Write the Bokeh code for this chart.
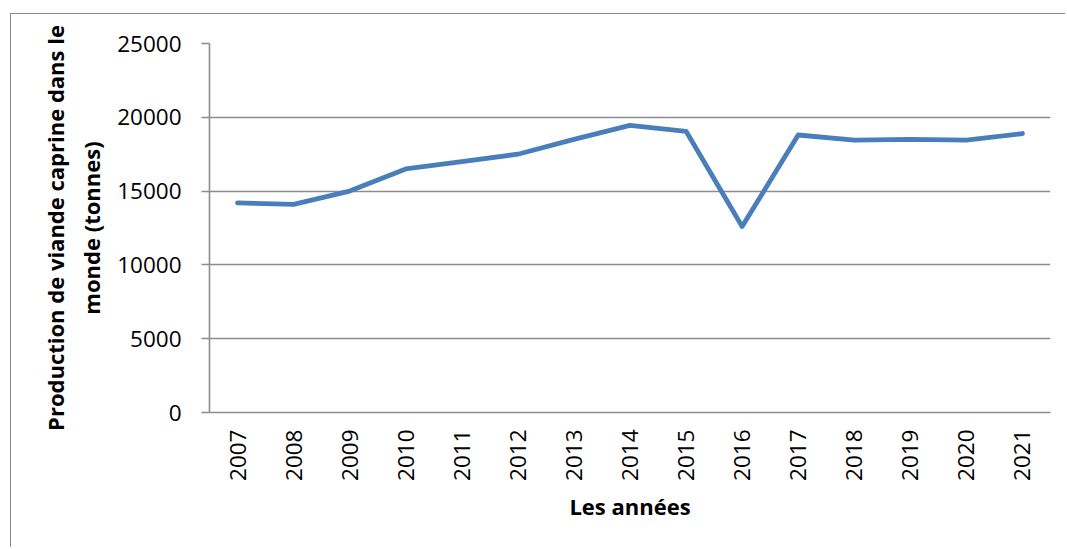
import math
from bokeh.plotting import figure
from bokeh.models import FactorRange, Range1d, FixedTicker
from bokeh.embed import file_html
from bokeh.resources import INLINE

years = ["2007", "2008", "2009", "2010", "2011", "2012", "2013", "2014",
         "2015", "2016", "2017", "2018", "2019", "2020", "2021"]
production = [14200, 14100, 15000, 16500, 17000, 17500, 18500, 19450,
              19050, 12600, 18800, 18450, 18500, 18450, 18900]
y_ticks = [0, 5000, 10000, 15000, 20000, 25000]

GREY = "#8c8c8c"
FONT = "Open Sans"

p = figure(width=1055, height=534, x_range=FactorRange(*years),
           y_range=Range1d(0, 25000), output_backend="svg",
           toolbar_location=None, min_border_left=198, min_border_top=29,
           min_border_right=16, min_border_bottom=136)
p.styles = {"border-left": "1px solid #8c8c8c", "border-top": "1px solid #8c8c8c",
            "margin-left": "10px", "margin-top": "13px"}
p.outline_line_color = None
p.background_fill_color = "white"
p.border_fill_color = "white"

p.line(years, production, line_color="#4a7ebb", line_width=4.8,
       line_cap="round", line_join="round")

p.xgrid.grid_line_color = None
p.ygrid.grid_line_color = GREY
p.ygrid.grid_line_width = 1.6
p.yaxis.ticker = FixedTicker(ticks=y_ticks)

for ax in (p.xaxis[0], p.yaxis[0]):
    ax.axis_line_color = GREY
    ax.axis_line_width = 1.6
    ax.major_tick_line_color = GREY
    ax.major_tick_line_width = 1.6
    ax.minor_tick_line_color = None
    ax.major_label_text_font = FONT
    ax.major_label_text_font_size = "22.5px"
    ax.major_label_text_color = "black"
    ax.axis_label_text_font = FONT
    ax.axis_label_text_font_style = "bold"
    ax.axis_label_text_font_size = "22px"
    ax.axis_label_text_color = "black"

p.yaxis.major_tick_out = 8
p.yaxis.major_tick_in = 0
p.yaxis.major_label_standoff = 20
p.yaxis.axis_label = "Production de viande caprine dans le\nmonde (tonnes)"
p.yaxis.axis_label_standoff = 8

p.xaxis.major_tick_out = 0
p.xaxis.major_tick_in = 0
p.xaxis.major_label_orientation = math.pi / 2
p.xaxis.major_label_standoff = 17
p.xaxis.axis_label = "Les années"
p.xaxis.axis_label_standoff = 7

open("out.html", "w").write(file_html(p, INLINE))
